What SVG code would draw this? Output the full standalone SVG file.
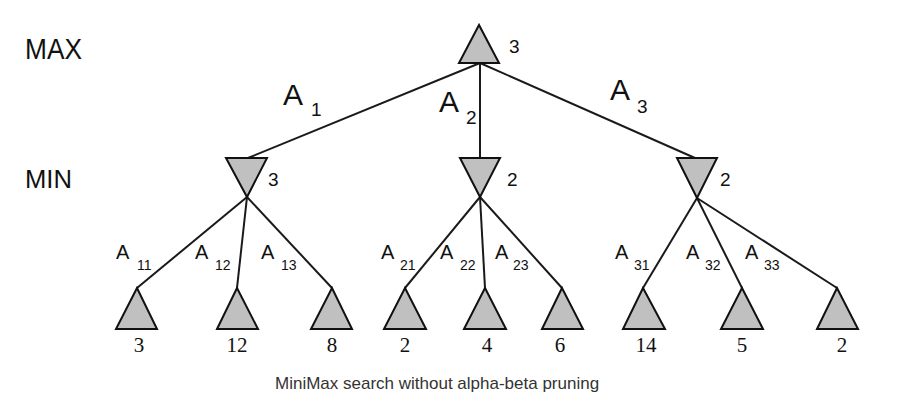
<svg xmlns="http://www.w3.org/2000/svg" width="907" height="404" viewBox="0 0 907 404">
<style>
.tri{fill:#c0c0c0;stroke:#111;stroke-width:2;stroke-linejoin:miter}
.edge{stroke:#1a1a1a;stroke-width:2;fill:none}
.lvl{font-family:"Liberation Sans",Arial,sans-serif;fill:#111}
.big{font-family:"Liberation Sans",Arial,sans-serif;font-size:30px;fill:#111}
.bigsub{font-family:"Liberation Sans",Arial,sans-serif;font-size:19px;fill:#111}
.val{font-family:"Liberation Sans",Arial,sans-serif;font-size:19px;fill:#111}
.el{font-family:"Liberation Sans",Arial,sans-serif;font-size:20px;fill:#111}
.es{font-family:"Liberation Sans",Arial,sans-serif;font-size:14px;fill:#111}
.leafv{font-family:"Liberation Serif","Times New Roman",serif;font-size:21px;fill:#111;text-anchor:middle}
.cap{font-family:"Liberation Sans",Arial,sans-serif;font-size:17px;fill:#333}
</style>
<rect width="907" height="404" fill="#fff"/>
<text class="lvl" x="25" y="59" font-size="29" textLength="57" lengthAdjust="spacingAndGlyphs">MAX</text>
<text class="lvl" x="25" y="188" font-size="25" textLength="47" lengthAdjust="spacingAndGlyphs">MIN</text>
<g id="connectors">
<line class="edge" x1="480" y1="63" x2="248" y2="158"/>
<line class="edge" x1="480" y1="63" x2="480" y2="158"/>
<line class="edge" x1="480" y1="63" x2="695" y2="158"/>
<line class="edge" x1="247" y1="197" x2="137" y2="288"/>
<line class="edge" x1="247" y1="197" x2="237" y2="288"/>
<line class="edge" x1="247" y1="197" x2="332" y2="288"/>
<line class="edge" x1="480" y1="197" x2="405" y2="288"/>
<line class="edge" x1="480" y1="197" x2="485" y2="288"/>
<line class="edge" x1="480" y1="197" x2="562" y2="288"/>
<line class="edge" x1="697" y1="198" x2="643" y2="288"/>
<line class="edge" x1="697" y1="198" x2="742" y2="288"/>
<line class="edge" x1="697" y1="198" x2="837" y2="288"/>
</g>
<g id="edge-labels">
<text class="big" x="283" y="105">A</text><text class="bigsub" x="311" y="116">1</text>
<text class="big" x="439" y="112">A</text><text class="bigsub" x="466" y="124">2</text>
<text class="big" x="610" y="100">A</text><text class="bigsub" x="637" y="113">3</text>
<text class="el" x="116" y="259">A</text><text class="es" x="137" y="270">11</text>
<text class="el" x="195" y="259">A</text><text class="es" x="215" y="270">12</text>
<text class="el" x="261" y="259">A</text><text class="es" x="281" y="270">13</text>
<text class="el" x="381" y="259">A</text><text class="es" x="400" y="270">21</text>
<text class="el" x="440" y="259">A</text><text class="es" x="460" y="270">22</text>
<text class="el" x="495" y="259">A</text><text class="es" x="513" y="270">23</text>
<text class="el" x="615" y="259">A</text><text class="es" x="634" y="270">31</text>
<text class="el" x="686" y="259">A</text><text class="es" x="705" y="270">32</text>
<text class="el" x="745" y="259">A</text><text class="es" x="764" y="270">33</text>
</g>
<g id="root">
<polygon class="tri" points="479,25 459,63 499,63"/>
<text class="val" x="509" y="53">3</text>
</g>
<g id="min1">
<polygon class="tri" points="226,158 267,158 247,197"/>
<text class="val" x="268" y="186">3</text>
</g>
<g id="min2">
<polygon class="tri" points="460,158 500,158 480,197"/>
<text class="val" x="507" y="186">2</text>
</g>
<g id="min3">
<polygon class="tri" points="677,158 717,158 697,198"/>
<text class="val" x="720" y="186">2</text>
</g>
<g id="leaf1"><polygon class="tri" points="137,288 116,329 157,329"/><text class="leafv" x="139" y="352">3</text></g>
<g id="leaf2"><polygon class="tri" points="237,288 217,329 258,329"/><text class="leafv" x="237" y="352">12</text></g>
<g id="leaf3"><polygon class="tri" points="332,288 311,329 352,329"/><text class="leafv" x="332" y="352">8</text></g>
<g id="leaf4"><polygon class="tri" points="405,288 384,329 426,329"/><text class="leafv" x="405" y="352">2</text></g>
<g id="leaf5"><polygon class="tri" points="485,288 464,329 506,329"/><text class="leafv" x="487" y="352">4</text></g>
<g id="leaf6"><polygon class="tri" points="562,288 542,329 583,329"/><text class="leafv" x="560" y="352">6</text></g>
<g id="leaf7"><polygon class="tri" points="643,288 623,329 665,329"/><text class="leafv" x="646" y="352">14</text></g>
<g id="leaf8"><polygon class="tri" points="742,288 721,329 763,329"/><text class="leafv" x="742" y="352">5</text></g>
<g id="leaf9"><polygon class="tri" points="837,288 817,329 858,329"/><text class="leafv" x="842" y="352">2</text></g>
<text class="cap" x="275" y="389">MiniMax search without alpha-beta pruning</text>
</svg>
